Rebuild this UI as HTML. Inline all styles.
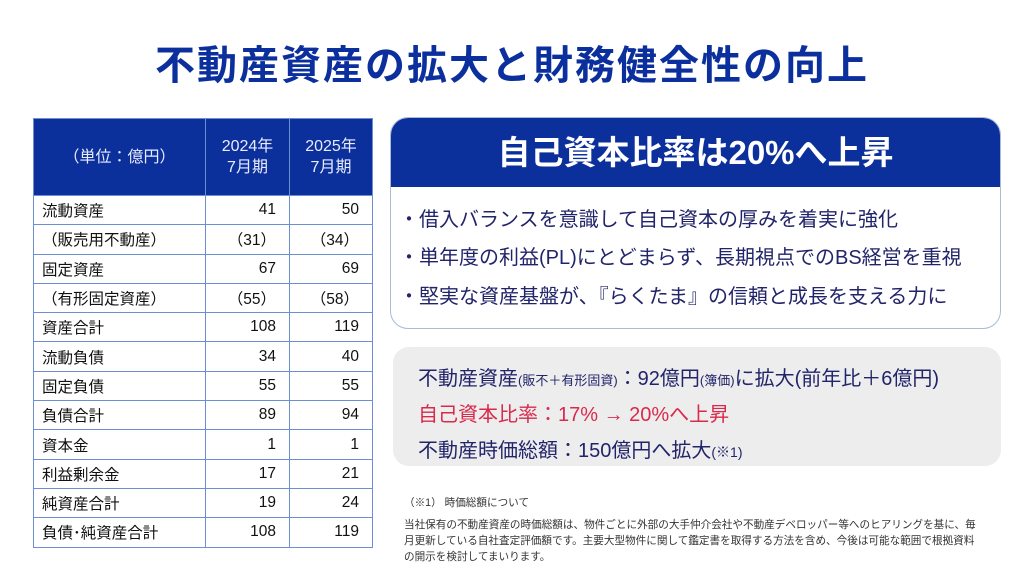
<!DOCTYPE html>
<html><head><meta charset="utf-8"><style>
body{margin:0;width:1024px;height:576px;background:#fff;font-family:"Liberation Sans","Noto Sans CJK JP",sans-serif;position:relative;overflow:hidden}
.t{position:absolute;left:0;width:1024px;top:33px;text-align:center;font-size:40px;font-weight:bold;color:#0c2f9e;letter-spacing:2px}
table{position:absolute;left:33px;top:118px;border-collapse:collapse;font-size:15.5px;color:#111;table-layout:fixed;width:339px}
td{border:1px solid #6d8fd2;height:28.3px;padding:0 8px;white-space:nowrap}
th{background:#0b2f9b;color:#e8ecff;font-weight:normal;height:74px;border:1px solid #6d8fd2;font-size:16px;line-height:21px}
td.n{text-align:right;padding-right:13px}
.box{position:absolute;left:390px;top:117px;width:611px;height:212px;border:1.5px solid #a9bcd8;border-radius:18px;overflow:hidden;box-sizing:border-box}
.bh{background:#0b2f9b;height:69px;color:#fff;font-size:33px;font-weight:bold;text-align:center;line-height:69px}
.bl{position:absolute;left:8px;font-size:20px;color:#22246a;white-space:nowrap}
.g{position:absolute;left:393px;top:347px;width:608px;height:119px;background:#ededed;border-radius:16px}
.gl{position:absolute;left:25px;font-size:20px;color:#22246a;white-space:nowrap}
.fn{position:absolute;left:404px;top:495px;font-size:10.6px;line-height:16px;color:#333;width:572px}
</style></head><body>
<div class="t">不動産資産の拡大と財務健全性の向上</div>
<table>
<colgroup><col style="width:172px"><col style="width:84px"><col style="width:83px"></colgroup>
<tr><th>（単位：億円）</th><th>2024年<br>7月期</th><th>2025年<br>7月期</th></tr>
<tr><td>流動資産</td><td class="n">41</td><td class="n">50</td></tr>
<tr><td>（販売用不動産）</td><td class="n">（31）</td><td class="n">（34）</td></tr>
<tr><td>固定資産</td><td class="n">67</td><td class="n">69</td></tr>
<tr><td>（有形固定資産）</td><td class="n">（55）</td><td class="n">（58）</td></tr>
<tr><td>資産合計</td><td class="n">108</td><td class="n">119</td></tr>
<tr><td>流動負債</td><td class="n">34</td><td class="n">40</td></tr>
<tr><td>固定負債</td><td class="n">55</td><td class="n">55</td></tr>
<tr><td>負債合計</td><td class="n">89</td><td class="n">94</td></tr>
<tr><td>資本金</td><td class="n">1</td><td class="n">1</td></tr>
<tr><td>利益剰余金</td><td class="n">17</td><td class="n">21</td></tr>
<tr><td>純資産合計</td><td class="n">19</td><td class="n">24</td></tr>
<tr><td>負債･純資産合計</td><td class="n">108</td><td class="n">119</td></tr>
</table>
<div class="box">
<div class="bh">自己資本比率は20%へ上昇</div>
<div class="bl" style="top:85px">・借入バランスを意識して自己資本の厚みを着実に強化</div>
<div class="bl" style="top:123px">・単年度の利益(PL)にとどまらず、長期視点でのBS経営を重視</div>
<div class="bl" style="top:162px">・堅実な資産基盤が、『らくたま』の信頼と成長を支える力に</div>
</div>
<div class="g">
<div class="gl" style="top:15px">不動産資産<span style="font-size:13px">(販不＋有形固資)</span>：92億円<span style="font-size:13px">(簿価)</span>に拡大(前年比＋6億円)</div>
<div class="gl" style="top:51px;color:#d92a4c">自己資本比率：17% → 20%へ上昇</div>
<div class="gl" style="top:87px">不動産時価総額：150億円へ拡大<span style="font-size:14px">(※1)</span></div>
</div>
<div class="fn"><div style="margin-bottom:6px">（※1） 時価総額について</div>当社保有の不動産資産の時価総額は、物件ごとに外部の大手仲介会社や不動産デベロッパー等へのヒアリングを基に、毎月更新している自社査定評価額です。主要大型物件に関して鑑定書を取得する方法を含め、今後は可能な範囲で根拠資料の開示を検討してまいります。</div>
</body></html>
